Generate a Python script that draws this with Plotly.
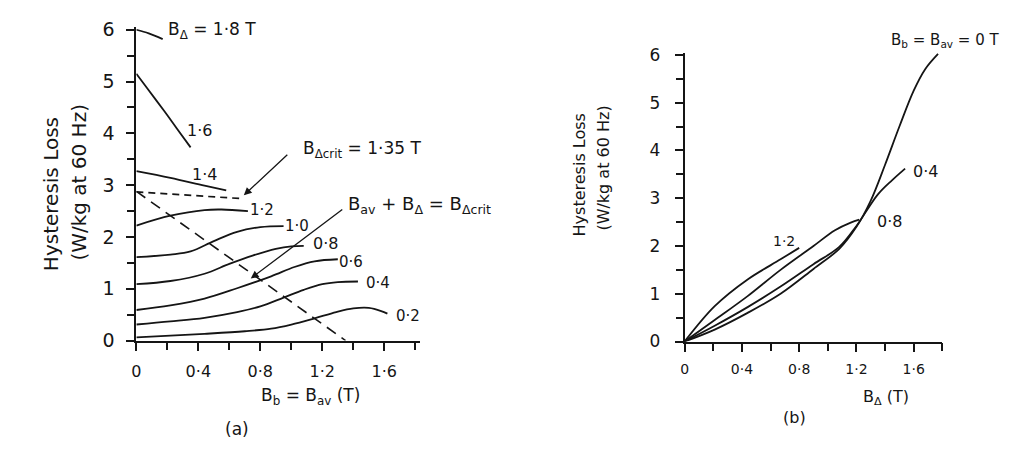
import plotly.graph_objects as go

W, H = 1012, 450
INK = "#151515"
FONT = "DejaVu Sans"

# ---- panel (a): loss vs B_b = B_av, one curve per B_delta ----
a_curves = {
    "1.8": ([0.0, 0.08, 0.17], [6.0, 5.93, 5.82]),
    "1.6": ([0.0, 0.07, 0.18, 0.26, 0.35], [5.15, 4.87, 4.43, 4.10, 3.73]),
    "1.4": ([0.0, 0.22, 0.44, 0.58], [3.27, 3.14, 2.99, 2.90]),
    "1.2": ([0.0, 0.22, 0.44, 0.55, 0.72], [2.22, 2.41, 2.52, 2.53, 2.50]),
    "1.0": ([0.0, 0.22, 0.35, 0.50, 0.65, 0.80, 0.95], [1.61, 1.66, 1.72, 1.92, 2.10, 2.19, 2.21]),
    "0.8": ([0.0, 0.22, 0.44, 0.60, 0.75, 0.90, 1.00, 1.08], [1.09, 1.15, 1.29, 1.48, 1.64, 1.77, 1.82, 1.83]),
    "0.6": ([0.0, 0.22, 0.44, 0.65, 0.87, 1.02, 1.15, 1.30], [0.59, 0.68, 0.81, 1.01, 1.24, 1.42, 1.53, 1.57]),
    "0.4": ([0.0, 0.22, 0.44, 0.65, 0.80, 0.95, 1.08, 1.20, 1.30, 1.43],
            [0.31, 0.37, 0.44, 0.55, 0.66, 0.83, 0.98, 1.09, 1.13, 1.14]),
    "0.2": ([0.0, 0.44, 0.70, 0.87, 1.00, 1.15, 1.29, 1.40, 1.50, 1.58, 1.62],
            [0.06, 0.13, 0.18, 0.23, 0.31, 0.43, 0.55, 0.62, 0.63, 0.57, 0.52]),
}
crit_x = [0.0, 0.69]          # B_delta,crit level line
crit_y = [2.87, 2.74]
locus_x = [0.0, 1.35]         # B_av + B_delta = B_delta,crit
locus_y = [2.88, 0.0]

# ---- panel (b): loss vs B_delta, one curve per B_b = B_av ----
b_curves = {
    "1.2": ([0.0, 0.21, 0.44, 0.67, 0.80], [0.0, 0.74, 1.30, 1.72, 1.96]),
    "0.8": ([0.0, 0.21, 0.44, 0.67, 0.90, 1.05, 1.16, 1.22], [0.0, 0.45, 0.95, 1.50, 2.00, 2.33, 2.49, 2.55]),
    "0.4": ([0.0, 0.21, 0.44, 0.67, 0.90, 1.08, 1.20, 1.35, 1.45, 1.54],
            [0.0, 0.33, 0.72, 1.15, 1.62, 1.98, 2.42, 3.08, 3.38, 3.62]),
    "0": ([0.0, 0.21, 0.44, 0.67, 0.90, 1.08, 1.20, 1.30, 1.40, 1.50, 1.60, 1.68, 1.77],
          [0.0, 0.25, 0.60, 1.00, 1.52, 1.94, 2.40, 2.95, 3.70, 4.50, 5.25, 5.70, 6.02]),
}

y_ticks = [0, 1, 2, 3, 4, 5, 6]
x_ticks = [0, 0.4, 0.8, 1.2, 1.6]
x_tick_text = ["0", "0·4", "0·8", "1·2", "1·6"]
Y_STEP, X_STEP = 0.5, 0.2     # spacing of the unlabelled tick marks

fig = go.Figure()

curve_line = dict(color=INK, width=1.8, shape="spline", smoothing=1.0)

for name, (xs, ys) in a_curves.items():
    fig.add_trace(go.Scatter(x=xs, y=ys, mode="lines", xaxis="x", yaxis="y", line=curve_line,
                             hoverinfo="skip", showlegend=False))
fig.add_trace(go.Scatter(x=crit_x, y=crit_y, mode="lines", xaxis="x", yaxis="y",
                         line=dict(color=INK, width=1.6, dash="7px,5px"),
                         hoverinfo="skip", showlegend=False))
fig.add_trace(go.Scatter(x=locus_x, y=locus_y, mode="lines", xaxis="x", yaxis="y",
                         line=dict(color=INK, width=1.6, dash="11px,7px"),
                         hoverinfo="skip", showlegend=False))

for name, (xs, ys) in b_curves.items():
    fig.add_trace(go.Scatter(x=xs, y=ys, mode="lines", xaxis="x2", yaxis="y2", line=curve_line,
                             hoverinfo="skip", showlegend=False))


def px(x):
    return x / W


def py(y):
    return 1 - y / H


TICK_LEN, TICK_W = 8, 2


def axis(font_size, **kw):
    return dict(showgrid=False, zeroline=False, showline=True, linecolor=INK, linewidth=2,
                ticks="outside", ticklen=TICK_LEN, tickwidth=TICK_W, tickcolor=INK, tickmode="array",
                tickfont=dict(family=FONT, size=font_size, color=INK), fixedrange=True, **kw)


def tick_axis(over, anchor, dom, rng, step):
    # overlay axis that only draws the evenly spaced tick marks
    return dict(overlaying=over, anchor=anchor, domain=dom, range=rng, tickmode="linear",
                tick0=0, dtick=step, ticks="outside", ticklen=TICK_LEN, tickwidth=TICK_W, tickcolor=INK,
                showticklabels=False, showline=False, showgrid=False, zeroline=False,
                fixedrange=True)


xa_dom, xa_rng = [px(132), px(417)], [0, 1.83]
ya_dom, ya_rng = [py(347), py(19)], [0, 6.05]
xb_dom, xb_rng = [px(683), px(942)], [0, 1.8]
yb_dom, yb_rng = [py(348), py(46)], [0, 6.04]

fig.update_layout(
    width=W, height=H, margin=dict(l=0, r=0, t=0, b=0),
    paper_bgcolor="white", plot_bgcolor="white",
    font=dict(family=FONT, color=INK),
    xaxis=axis(16, domain=xa_dom, range=xa_rng, anchor="y",
               tickvals=x_ticks, ticktext=x_tick_text, ticklabelstandoff=7),
    yaxis=axis(19, domain=ya_dom, range=ya_rng, anchor="x",
               tickvals=y_ticks, ticklabelstandoff=8),
    xaxis2=axis(14, domain=xb_dom, range=xb_rng, anchor="y2",
                tickvals=x_ticks, ticktext=x_tick_text, ticklabelstandoff=6),
    yaxis2=axis(17, domain=yb_dom, range=yb_rng, anchor="x2",
                tickvals=y_ticks, ticklabelstandoff=11),
    xaxis3=tick_axis("x", "y", xa_dom, xa_rng, X_STEP),
    yaxis3=tick_axis("y", "x", ya_dom, ya_rng, Y_STEP),
    xaxis4=tick_axis("x2", "y2", xb_dom, xb_rng, X_STEP),
    yaxis4=tick_axis("y2", "x2", yb_dom, yb_rng, Y_STEP),
)

# empty traces so the tick-only axes are drawn
fig.add_trace(go.Scatter(x=[0.5], y=[0.5], xaxis="x3", yaxis="y3", mode="markers",
                         marker=dict(opacity=0), showlegend=False, hoverinfo="skip"))
fig.add_trace(go.Scatter(x=[0.5], y=[0.5], xaxis="x4", yaxis="y4", mode="markers",
                         marker=dict(opacity=0), showlegend=False, hoverinfo="skip"))


def label(text, x, y, size=16, xanchor="center", angle=0):
    fig.add_annotation(text=text, x=px(x), y=py(y), xref="paper", yref="paper",
                       showarrow=False, xanchor=xanchor, yanchor="middle", textangle=angle,
                       font=dict(family=FONT, size=size, color=INK))


def arrow(head, tail):
    fig.add_annotation(text="", x=px(head[0]), y=py(head[1]), xref="paper", yref="paper",
                       ax=tail[0] - head[0], ay=tail[1] - head[1], showarrow=True,
                       arrowhead=2, arrowsize=1.2, arrowwidth=1.3, arrowcolor=INK)


# panel (a) text
label("B<sub>Δ</sub> = 1·8 T", 162, 23, 17, "left")
label("1·6", 195, 127, 16)
label("1·4", 200, 173, 16)
label("1·2", 258, 210, 15)
label("1·0", 293, 227, 15)
label("0·8", 322, 245, 16)
label("0·6", 348, 265, 15)
label("0·4", 375, 287, 15)
label("0·2", 405, 321, 15)
label("B<sub>Δcrit</sub> = 1·35 T", 297, 147, 17, "left")
arrow((240, 195), (285, 153))
label("B<sub>av</sub> + B<sub>Δ</sub> = B<sub>Δcrit</sub>", 343, 205, 18, "left")
arrow((247, 282), (340, 212))
label("B<sub>b</sub> = B<sub>av</sub> (T)", 307, 405, 17)
label("(a)", 233, 440, 17)
label("Hysteresis Loss", 47, 194, 20, angle=-90)
label("(W/kg at 60 Hz)", 74, 181, 20, angle=-90)

# panel (b) text
label("1·2", 783, 243, 14)
label("0·8", 889, 222, 16)
label("0·4", 925, 170, 16)
label("B<sub>b</sub> = B<sub>av</sub> = 0 T", 945, 33, 15)
label("B<sub>Δ</sub> (T)", 885, 407, 16)
label("(b)", 793, 427, 16)
label("Hysteresis Loss", 577, 174, 16, angle=-90)
label("(W/kg at 60 Hz)", 602, 167, 16, angle=-90)

fig.write_html("out.html")
